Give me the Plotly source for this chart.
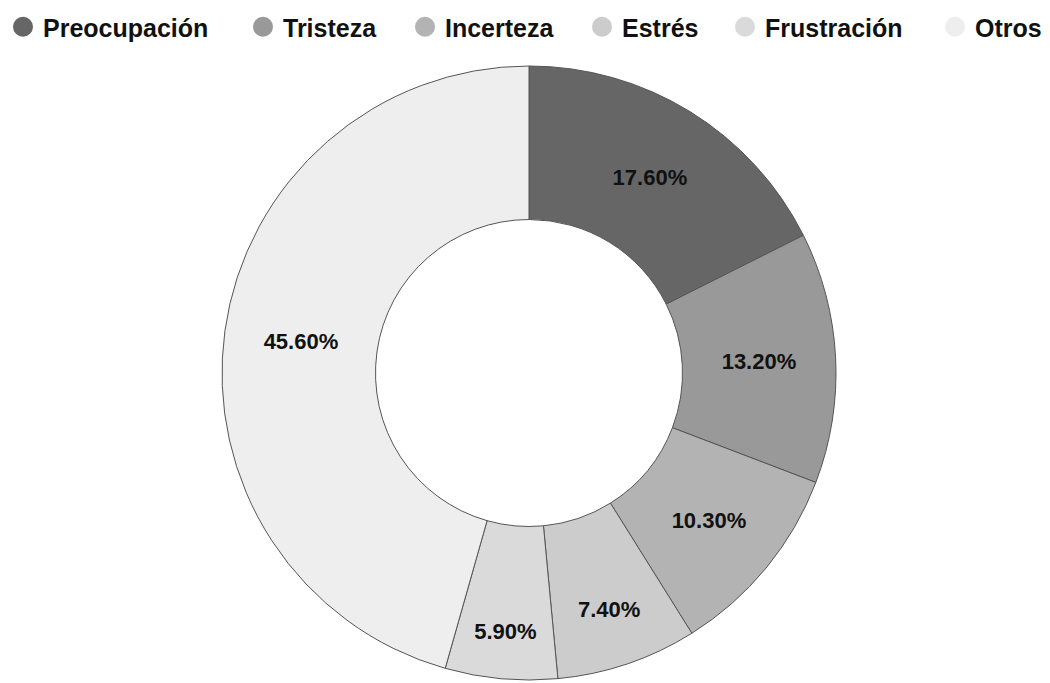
import plotly.graph_objects as go

categories = ["Preocupación", "Tristeza", "Incerteza", "Estrés", "Frustración", "Otros"]
values = [17.6, 13.2, 10.3, 7.4, 5.9, 45.6]
colors = ["#666666", "#999999", "#b3b3b3", "#cccccc", "#dadada", "#eeeeee"]

W, H = 1050, 683
OFF = 8  # page body margin
cx, cy, R = 529 - OFF, 373 - OFF, 307

# legend entry left positions (pixels, figure coordinates)
legend_x_px = [-5, 235, 397, 574, 717, 927]

fig = go.Figure()
fig.add_trace(go.Pie(
    labels=categories,
    values=values,
    hole=0.5,
    sort=False,
    direction="clockwise",
    rotation=0,
    marker=dict(colors=colors, line=dict(color="#555555", width=1)),
    texttemplate="%{percent:.2%}",
    textposition="inside",
    insidetextorientation="horizontal",
    textfont=dict(family="Arial, Liberation Sans, sans-serif", size=22, color="#111111", weight="bold"),
    showlegend=False,
    domain=dict(x=[(cx - R) / W, (cx + R) / W], y=[(H - cy - R) / H, (H - cy + R) / H]),
))

legend_font = dict(family="Arial, Liberation Sans, sans-serif", size=25, color="#111111", weight="bold")
layout_legends = {}
for i, (name, col) in enumerate(zip(categories, colors)):
    key = "legend" if i == 0 else f"legend{i + 1}"
    fig.add_trace(go.Scatter(
        x=[None], y=[None], mode="markers", name=name, legend=key,
        marker=dict(symbol="circle", size=16, color=col, line=dict(color=col, width=4)),
    ))
    layout_legends[key] = dict(
        orientation="h",
        x=legend_x_px[i] / W, xanchor="left", y=1 + 4 / H, yanchor="top",
        font=legend_font, bgcolor="rgba(0,0,0,0)",
    )

fig.update_layout(
    width=W, height=H,
    margin=dict(l=0, r=0, t=0, b=0, autoexpand=False),
    paper_bgcolor="white", plot_bgcolor="white",
    xaxis=dict(visible=False), yaxis=dict(visible=False),
    showlegend=True,
    uniformtext=dict(minsize=20, mode="show"),
    **layout_legends,
)

fig.write_html("out.html")
